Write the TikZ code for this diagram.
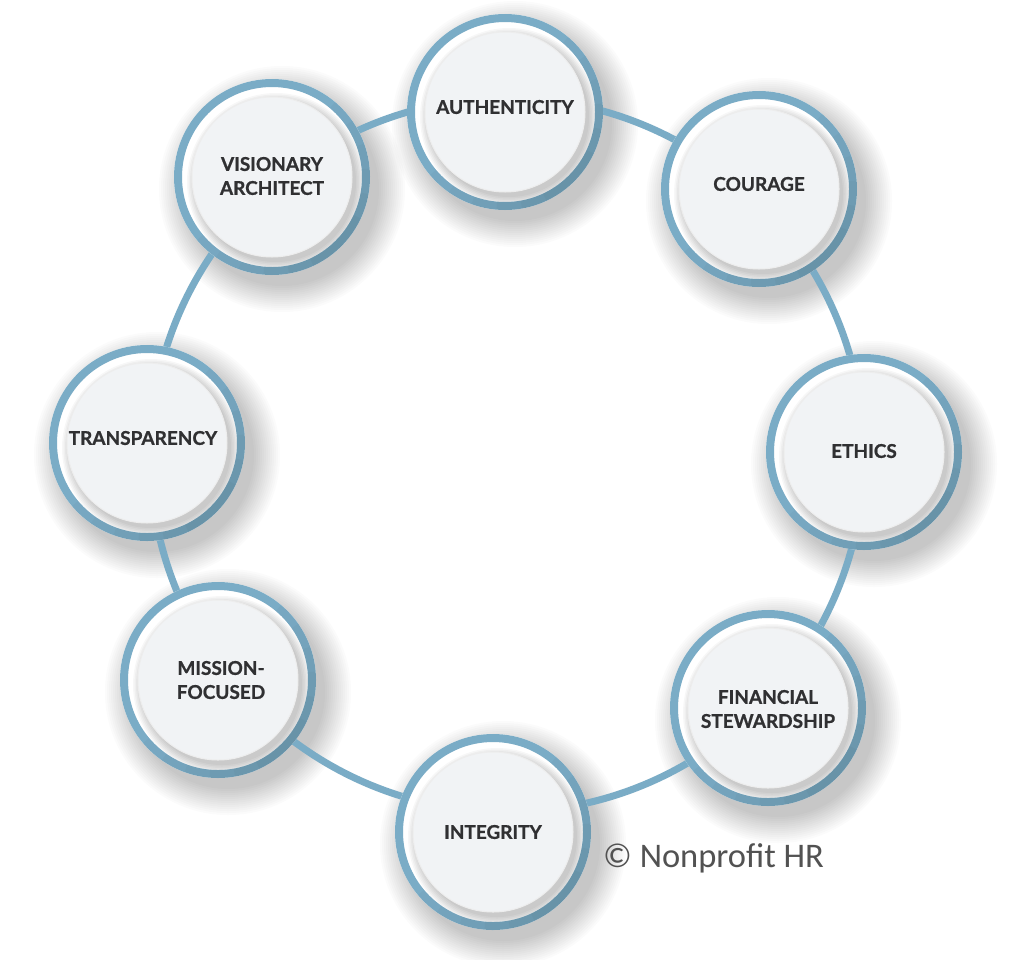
\documentclass[tikz,border=0pt]{standalone}
\usepackage{fontspec}
\newfontfamily\lato{Lato}[BoldFeatures={FakeBold=0.9}]
\newfontfamily\carlito{Carlito}
\usetikzlibrary{calc}
\definecolor{ringblue}{RGB}{122,172,198}
\definecolor{diskcol}{RGB}{241,243,245}
\definecolor{txt}{RGB}{48,48,50}
\definecolor{copycol}{RGB}{82,82,82}
\begin{document}
\begin{tikzpicture}[x=1pt,y=-1pt,
  lbl/.style={font=\lato\bfseries\fontsize{19}{24}\selectfont, text=txt, align=center, inner sep=0pt},
  bigring/.style={draw=ringblue, line width=7pt},
  nodering/.style={draw=ringblue, line width=8pt}]
\useasboundingbox[fill=white] (0,0) rectangle (1024,959);
\foreach \x/\y/\n in {505/112/auth,759/189/cour,864/452/eth,768/708/fin,493/832/integ,218/680/miss,147/443/trans,272/177/vis}{
  \coordinate (\n) at (\x,\y);
}
% soft drop shadows
\foreach \n in {auth,cour,eth,fin,integ,miss,trans,vis}{
  \foreach \i in {0,...,13}{
    \fill[black,opacity=0.014] ($(\n)+(10,12)$) circle[radius={(97+2*\i)*1pt}];
  }
}
% connecting ring
\draw[bigring] (507,455) circle[radius=357pt];
% nodes
\foreach \n in {auth,cour,eth,fin,integ,miss,trans,vis}{
  \fill[white] (\n) circle[radius=98pt];
  \begin{scope}
    \clip (\n) circle[radius=90pt];
    \foreach \i in {0,...,6}{
      \fill[black,opacity=0.03] ($(\n)+(4,5)$) circle[radius={(80+1.5*\i)*1pt}];
    }
  \end{scope}
  \draw[nodering] (\n) circle[radius=94pt];
  \foreach \a/\b in {-140/50,-125/35,-110/20,-95/5,-80/-10,-65/-25}{
    \draw[black,opacity=0.025,line width=8pt] ($(\n)+(\a:94pt)$) arc[start angle=\a, end angle=\b, radius=94pt];
  }
  \fill[diskcol] (\n) circle[radius=80pt];
  \draw[black!7,line width=1pt] (\n) circle[radius=80pt];
}
% labels
\node[lbl] (authT)  at ($(auth)+(0,-5)$)  {AUTHENTICITY};
\node[lbl] (courT)  at ($(cour)+(0,-5)$)  {COURAGE};
\node[lbl] (ethT)   at ($(eth)+(0,-1)$)   {ETHICS};
\node[lbl] (finT)   at ($(fin)+(0,1)$)    {FINANCIAL\\STEWARDSHIP};
\node[lbl] (integT) at ($(integ)+(0,0)$)  {INTEGRITY};
\node[lbl] (missT)  at ($(miss)+(3,0)$)   {MISSION-\\FOCUSED};
\node[lbl] (transT) at ($(trans)+(-4,-5)$) {TRANSPARENCY};
\node[lbl] (visT)   at ($(vis)+(0,-1)$)   {VISIONARY\\ARCHITECT};
% copyright
\node[anchor=west, inner sep=0pt, text=copycol, font=\carlito\fontsize{34.5}{40}\selectfont] (copy) at (603,858) {© Nonprofit HR};
\end{tikzpicture}
\end{document}
